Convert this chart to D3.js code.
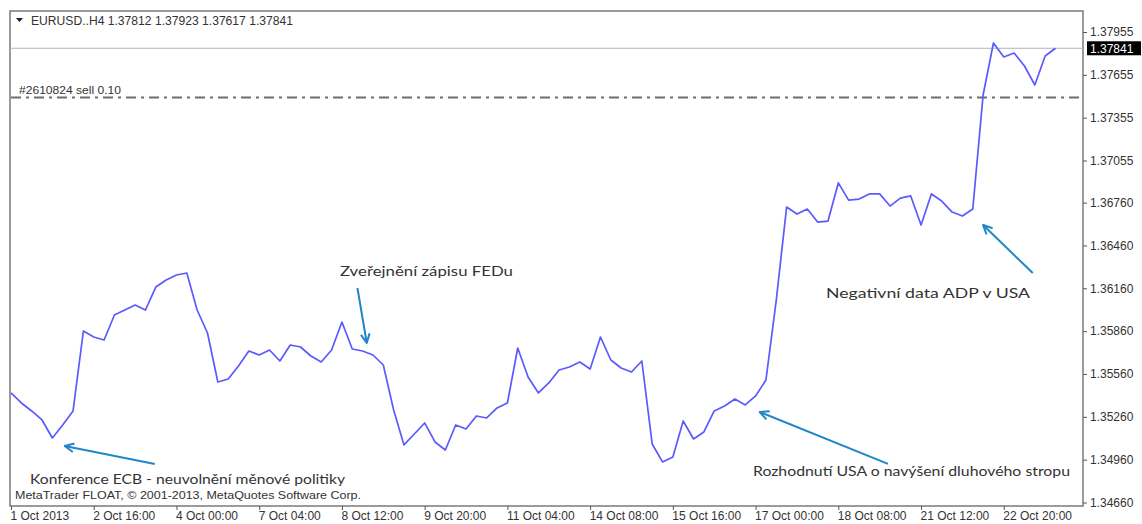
<!DOCTYPE html>
<html>
<head>
<meta charset="utf-8">
<script src="https://cdn.jsdelivr.net/npm/d3@7"></script>
<style>
  body { margin: 0; background: #fff; }
  svg { display: block; }
  .axis text { font-family: Tahoma, "Liberation Sans", sans-serif; font-size: 12px; fill: #333; }
  .note { font-family: "Comic Sans MS", "Lato", "Open Sans", sans-serif; font-size: 14px; fill: #333; }
</style>
</head>
<body>
<div id="chart"></div>
<script>
// EURUSD H4 closes, 1 Oct 2013 .. 23 Oct 2013
const closes = [
  1.35427, 1.35357, 1.35301, 1.35238, 1.35112, 1.35203, 1.35301, 1.35861, 1.35819, 1.35798,
  1.35973, 1.36008, 1.36043, 1.36008, 1.36169, 1.36218, 1.36253, 1.36267, 1.36008, 1.35847,
  1.35504, 1.35525, 1.35616, 1.35721, 1.35693, 1.35728, 1.35651, 1.35763, 1.35749, 1.35686,
  1.35644, 1.35728, 1.35924, 1.35735, 1.35721, 1.35693, 1.35623, 1.35308, 1.35063, 1.35140,
  1.35217, 1.35084, 1.35028, 1.35203, 1.35175, 1.35266, 1.35252, 1.35322, 1.35357, 1.35742,
  1.35539, 1.35427, 1.35497, 1.35588, 1.35609, 1.35644, 1.35595, 1.35819, 1.35658, 1.35602,
  1.35574, 1.35651, 1.35070, 1.34944, 1.34979, 1.35231, 1.35105, 1.35154, 1.35301, 1.35336,
  1.35385, 1.35343, 1.35406, 1.35518, 1.36078, 1.36729, 1.36680, 1.36715, 1.36624, 1.36631,
  1.36898, 1.36778, 1.36785, 1.36821, 1.36821, 1.36736, 1.36792, 1.36807, 1.36603, 1.36821,
  1.36771, 1.36694, 1.36666, 1.36715, 1.37514, 1.37878, 1.37780, 1.37808, 1.37717, 1.37584,
  1.37787, 1.37841
];

const timeLabels = [
  "1 Oct 2013", "2 Oct 16:00", "4 Oct 00:00", "7 Oct 04:00", "8 Oct 12:00", "9 Oct 20:00",
  "11 Oct 04:00", "14 Oct 08:00", "15 Oct 16:00", "17 Oct 00:00", "18 Oct 08:00",
  "21 Oct 12:00", "22 Oct 20:00"
];
const barsPerLabel = 8;

const priceTicks = [1.37955, 1.37655, 1.37355, 1.37055, 1.36760, 1.36460, 1.36160,
  1.35860, 1.35560, 1.35260, 1.34960, 1.34660];

const lastPrice = 1.37841;
const orderPrice = 1.37496;
const header = "EURUSD..H4  1.37812 1.37923 1.37617 1.37841";
const orderLabel = "#2610824 sell 0.10";
const copyright = "MetaTrader FLOAT, \u00a9 2001-2013, MetaQuotes Software Corp.";

// notes: head/tail given as [bar index, price]
const notes = [
  { text: "Konference ECB - neuvolnění měnové politiky", tx: 30, ty: 484, tw: 315,
    head: [5.2, 1.35056], tail: [13.9, 1.34930] },
  { text: "Zveřejnění zápisu FEDu", tx: 340, ty: 276, tw: 173,
    head: [34.4, 1.35777], tail: [33.5, 1.36162] },
  { text: "Rozhodnutí USA o navýšení dluhového stropu", tx: 753, ty: 476, tw: 317,
    head: [72.4, 1.35294], tail: [84.8, 1.34930] },
  { text: "Negativní data ADP v USA", tx: 826, ty: 298, tw: 204,
    head: [94.0, 1.36603], tail: [98.8, 1.36267] },
];

const width = 1142, height = 524;
const frame = { left: 10, right: 1083, top: 11, bottom: 506 };

const svg = d3.select("#chart").append("svg")
  .attr("width", width).attr("height", height);

const x = d3.scaleLinear().domain([0, closes.length - 1]).range([11, 1055.5]);
const y = d3.scaleLinear().domain([1.34660, 1.37955]).range([502.5, 32]);

// frame
svg.append("rect")
  .attr("x", frame.left).attr("y", frame.top)
  .attr("width", frame.right - frame.left).attr("height", frame.bottom - frame.top)
  .attr("fill", "#fff").attr("stroke", "#7a7a7a").attr("stroke-width", 1.5);

// price axis (right)
const yAxis = svg.append("g").attr("class", "axis")
  .attr("transform", `translate(${frame.right},0)`)
  .call(d3.axisRight(y).tickValues(priceTicks).tickFormat(d3.format(".5f")).tickSize(4).tickPadding(3));
yAxis.select(".domain").remove();
yAxis.selectAll(".tick line").attr("stroke", "#555");

// time axis (bottom)
const xAxis = svg.append("g").attr("class", "axis")
  .attr("transform", `translate(0,${frame.bottom})`)
  .call(d3.axisBottom(x)
    .tickValues(timeLabels.map((_, i) => i * barsPerLabel))
    .tickFormat((d) => timeLabels[d / barsPerLabel])
    .tickSize(4).tickPadding(1));
xAxis.select(".domain").remove();
xAxis.selectAll(".tick line").attr("stroke", "#555");
xAxis.selectAll(".tick text").attr("text-anchor", "start").attr("dx", -1);

// current price line
svg.append("line")
  .attr("x1", frame.left).attr("x2", frame.right)
  .attr("y1", y(lastPrice)).attr("y2", y(lastPrice))
  .attr("stroke", "#a9b8c8").attr("stroke-width", 1);

// order line
svg.append("line")
  .attr("x1", frame.left + 1).attr("x2", frame.right)
  .attr("y1", y(orderPrice)).attr("y2", y(orderPrice))
  .attr("stroke", "#6e6e6e").attr("stroke-width", 2)
  .attr("stroke-dasharray", "10,5,3,5");

svg.append("text")
  .attr("x", 19).attr("y", y(orderPrice) - 4)
  .style("font-family", "Tahoma, 'Liberation Sans', sans-serif")
  .style("font-size", "11px").style("fill", "#333")
  .attr("textLength", 102).attr("lengthAdjust", "spacingAndGlyphs")
  .text(orderLabel);

// price line
svg.append("path")
  .datum(closes)
  .attr("fill", "none")
  .attr("stroke", "#5a5aff")
  .attr("stroke-width", 1.7)
  .attr("stroke-linejoin", "round")
  .attr("d", d3.line().x((d, i) => x(i)).y((d) => y(d)));

// last price tag
const tagY = y(lastPrice);
svg.append("rect")
  .attr("x", frame.right + 4).attr("y", tagY - 7)
  .attr("width", 54).attr("height", 14).attr("fill", "#000");
svg.append("text")
  .attr("x", frame.right + 7).attr("y", tagY + 4.5)
  .style("font-family", "Tahoma, 'Liberation Sans', sans-serif")
  .style("font-size", "12px").style("fill", "#fff")
  .text(d3.format(".5f")(lastPrice));

// header
svg.append("path")
  .attr("d", "M16,18 L23,18 L19.5,22 Z").attr("fill", "#222");
svg.append("text")
  .attr("x", 31).attr("y", 25)
  .style("font-family", "Tahoma, 'Liberation Sans', sans-serif")
  .style("font-size", "12px").style("fill", "#333")
  .attr("textLength", 262).attr("lengthAdjust", "spacingAndGlyphs")
  .text(header);

// copyright
svg.append("text")
  .attr("x", 15).attr("y", 499)
  .style("font-family", "Tahoma, 'Liberation Sans', sans-serif")
  .style("font-size", "11px").style("fill", "#333")
  .attr("textLength", 346).attr("lengthAdjust", "spacingAndGlyphs")
  .text(copyright);

// annotations
const arrowColor = "#1f86c7";
notes.forEach((n) => {
  const hx = x(n.head[0]), hy = y(n.head[1]);
  const tx = x(n.tail[0]), ty = y(n.tail[1]);
  svg.append("line")
    .attr("x1", tx).attr("y1", ty).attr("x2", hx).attr("y2", hy)
    .attr("stroke", arrowColor).attr("stroke-width", 2);
  const ang = Math.atan2(hy - ty, hx - tx);
  const len = 10, spread = 0.45;
  const p1 = [hx - len * Math.cos(ang - spread), hy - len * Math.sin(ang - spread)];
  const p2 = [hx - len * Math.cos(ang + spread), hy - len * Math.sin(ang + spread)];
  svg.append("path")
    .attr("d", `M${p1[0]},${p1[1]} L${hx},${hy} L${p2[0]},${p2[1]}`)
    .attr("fill", "none").attr("stroke", arrowColor).attr("stroke-width", 2)
    .attr("stroke-linejoin", "round");
  svg.append("text").attr("class", "note")
    .attr("x", n.tx).attr("y", n.ty)
    .attr("textLength", n.tw).attr("lengthAdjust", "spacingAndGlyphs")
    .text(n.text);
});
</script>
</body>
</html>
